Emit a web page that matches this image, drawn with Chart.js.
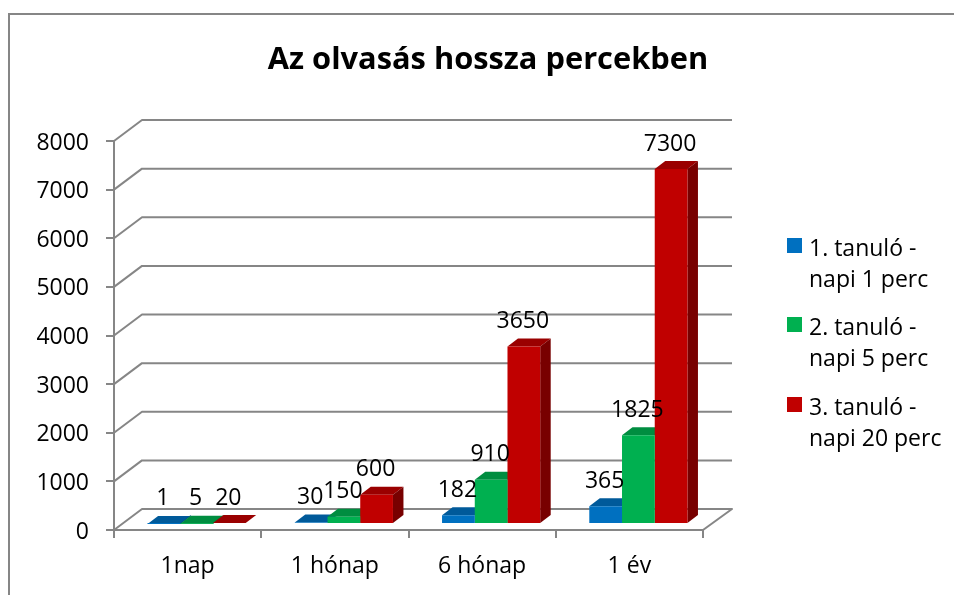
<!DOCTYPE html>
<html><head><meta charset="utf-8">
<style>html,body{margin:0;padding:0;background:#fff}canvas{display:block}</style>
<script src="https://cdn.jsdelivr.net/npm/chart.js@4"></script>
</head><body><canvas id="c" width="954" height="595"></canvas>
<script>
const titleText = 'Az olvasás hossza percekben';
const categories = ['1nap', '1 hónap', '6 hónap', '1 év'];
const student1 = [1, 30, 182, 365];
const student2 = [5, 150, 910, 1825];
const student3 = [20, 600, 3650, 7300];
const seriesNames = ['1. tanuló - napi 1 perc', '2. tanuló - napi 5 perc', '3. tanuló - napi 20 perc'];
const legendLines = [['1. tanuló -', 'napi 1 perc'], ['2. tanuló -', 'napi 5 perc'], ['3. tanuló -', 'napi 20 perc']];
const frontColors = ['#0070C0', '#00B050', '#C00000'];
const topColors = ['#005A9A', '#008D40', '#9A0000'];
const sideColors = ['#004F87', '#007A38', '#780000'];
const FONT = '"Open Sans"';
const GRID = '#868686';
const wall = {dx: 28, dy: 21};
const barShift = {dx: 9, dy: 6};
const depth = {dx: 10.5, dy: 8};

const scene = {
  id: 'scene',
  beforeDraw(chart) {
    const c = chart.ctx;
    c.save();
    c.fillStyle = '#fff'; c.fillRect(0, 0, chart.width, chart.height);
    c.strokeStyle = GRID; c.lineWidth = 2;
    c.beginPath(); c.moveTo(9, 595); c.lineTo(9, 14); c.lineTo(954, 14); c.stroke();
    c.fillStyle = '#000'; c.font = 'bold 30.8px ' + FONT; c.textAlign = 'center'; c.textBaseline = 'middle';
    c.fillText(titleText, 488, 60);
    c.restore();
  },
  beforeDatasetsDraw(chart) {
    const c = chart.ctx, y = chart.scales.y, a = chart.chartArea;
    c.save();
    c.strokeStyle = GRID; c.lineWidth = 2; c.lineJoin = 'round';
    y.ticks.forEach(t => {
      const py = y.getPixelForValue(t.value);
      c.beginPath(); c.moveTo(a.left, py); c.lineTo(a.left + wall.dx, py - wall.dy); c.lineTo(a.right + wall.dx + 1, py - wall.dy);
      if (t.value === 0) c.lineTo(a.right, py);
      c.stroke();
    });
    // Top and side faces of the bars, behind the library's own front faces
    chart.data.datasets.forEach((ds, i) => {
      chart.getDatasetMeta(i).data.forEach(bar => {
        const L = bar.x - bar.width / 2 + barShift.dx, R = bar.x + bar.width / 2 + barShift.dx;
        const T = bar.y - barShift.dy, B = bar.base - barShift.dy;
        c.fillStyle = topColors[i];
        c.beginPath(); c.moveTo(L, T); c.lineTo(L + depth.dx, T - depth.dy); c.lineTo(R + depth.dx, T - depth.dy); c.lineTo(R, T); c.closePath(); c.fill();
        c.fillStyle = sideColors[i];
        c.beginPath(); c.moveTo(R, T); c.lineTo(R + depth.dx, T - depth.dy); c.lineTo(R + depth.dx, B - depth.dy); c.lineTo(R, B); c.closePath(); c.fill();
      });
    });
    c.restore();
    c.save();
    c.translate(barShift.dx, -barShift.dy);
  },
  afterDatasetsDraw(chart) {
    const c = chart.ctx;
    c.restore();
    c.save();
    c.fillStyle = '#000'; c.font = '23px ' + FONT; c.textAlign = 'center'; c.textBaseline = 'middle';
    chart.data.datasets.forEach((ds, i) => {
      chart.getDatasetMeta(i).data.forEach((bar, j) => {
        c.fillText(String(ds.data[j]), bar.x + barShift.dx - 1, bar.y - barShift.dy - 25);
      });
    });
    // Legend
    const rows = [238, 317, 397];
    legendLines.forEach((lines, i) => {
      c.fillStyle = frontColors[i];
      c.fillRect(787, rows[i], 15, 15);
      c.fillStyle = '#000'; c.textAlign = 'left';
      lines.forEach((s, k) => c.fillText(s, 809, rows[i] + 11 + k * 31.5));
    });
    c.restore();
  }
};

new Chart(document.getElementById('c'), {
  type: 'bar',
  data: {
    labels: categories,
    datasets: [student1, student2, student3].map((d, i) => ({
      label: seriesNames[i], data: d, backgroundColor: frontColors[i], borderWidth: 0,
      categoryPercentage: 2 / 3, barPercentage: 1, clip: false
    }))
  },
  options: {
    responsive: false, animation: false, events: [],
    layout: {padding: {left: 0, right: 251, top: 141, bottom: 0}},
    plugins: {legend: {display: false}, title: {display: false}, tooltip: {enabled: false}},
    scales: {
      x: {
        offset: true,
        afterFit(s) { s.height = 65; },
        grid: {display: true, drawOnChartArea: false, drawTicks: true, tickLength: 8, color: GRID, lineWidth: 2, offset: true},
        border: {display: true, color: GRID, width: 2},
        ticks: {color: '#000', font: {family: FONT, size: 23}, padding: 15, maxRotation: 0}
      },
      y: {
        min: 0, max: 8000,
        afterFit(s) { s.width = 114; },
        grid: {display: true, drawOnChartArea: false, drawTicks: true, tickLength: 8, color: GRID, lineWidth: 2},
        border: {display: true, color: GRID, width: 2},
        ticks: {color: '#000', font: {family: FONT, size: 23}, padding: 17, labelOffset: 2, stepSize: 1000, callback: v => String(v)}
      }
    }
  },
  plugins: [scene]
});
</script></body></html>
